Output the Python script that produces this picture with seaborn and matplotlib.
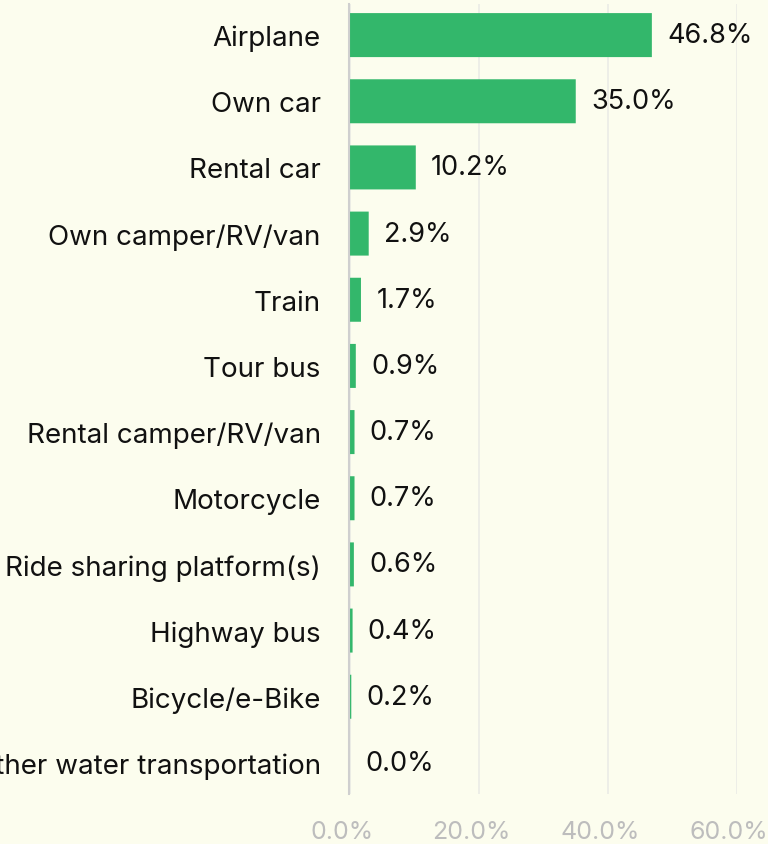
import matplotlib
matplotlib.use("Agg")
import matplotlib.pyplot as plt
import matplotlib.transforms as mtransforms
import seaborn as sns
import pandas as pd

categories = ["Airplane", "Own car", "Rental car", "Own camper/RV/van", "Train",
              "Tour bus", "Rental camper/RV/van", "Motorcycle",
              "Ride sharing platform(s)", "Highway bus", "Bicycle/e-Bike",
              "Boat/other water transportation"]
values = [46.8, 35.0, 10.2, 2.9, 1.7, 0.9, 0.7, 0.7, 0.6, 0.4, 0.2, 0.0]
x_ticks = [0, 20, 40, 60]
x_tick_labels = ["0.0%", "20.0%", "40.0%", "60.0%"]

df = pd.DataFrame({"mode": categories, "share": values})

bg = "#fcfdee"
green = "#33b76b"

sns.set_theme(style="white")
plt.rcParams["font.family"] = ["Inter", "DejaVu Sans"]

fig = plt.figure(figsize=(7.68, 8.45), dpi=100, facecolor=bg)
ax = fig.add_axes([350 / 768, 1 - 795 / 845, (737 - 350) / 768, (795 - 5) / 845])
ax.set_facecolor(bg)

sns.barplot(data=df, x="share", y="mode", color=green, width=0.665,
            saturation=1, ax=ax, zorder=3)
for p in ax.patches:
    p.set_snap(False)
    p.set_linewidth(0)

ax.set_xlim(0, 60)
ax.set_ylim(11.47, -0.47)
ax.set_xticks(x_ticks)
ax.set_xticklabels(x_tick_labels, color="#bdbdbd", fontsize=18)
ax.tick_params(axis="x", length=0, pad=19)
shift = mtransforms.ScaledTranslation(-8 / 100, 0, fig.dpi_scale_trans)
for lbl in ax.get_xticklabels():
    lbl.set_transform(lbl.get_transform() + shift)
ax.tick_params(axis="y", length=0, pad=20, labelsize=20, labelcolor="#111111")
ax.set_xlabel("")
ax.set_ylabel("")
ax.grid(axis="x", color="#ebebe6", linewidth=1.2, zorder=0)
for s in ["top", "right", "bottom"]:
    ax.spines[s].set_visible(False)
ax.spines["left"].set_color("#cfcfcf")
ax.spines["left"].set_linewidth(1.5)
ax.spines["left"].set_position(("outward", 1))
ax.spines["left"].set_zorder(4)

for i, v in enumerate(values):
    ax.annotate(f"{v:.1f}%", xy=(v, i), xytext=(11, 0), textcoords="offset points",
                va="center", ha="left", fontsize=19.5, color="#111111")

fig.savefig("out.png", dpi=100, facecolor=bg)
